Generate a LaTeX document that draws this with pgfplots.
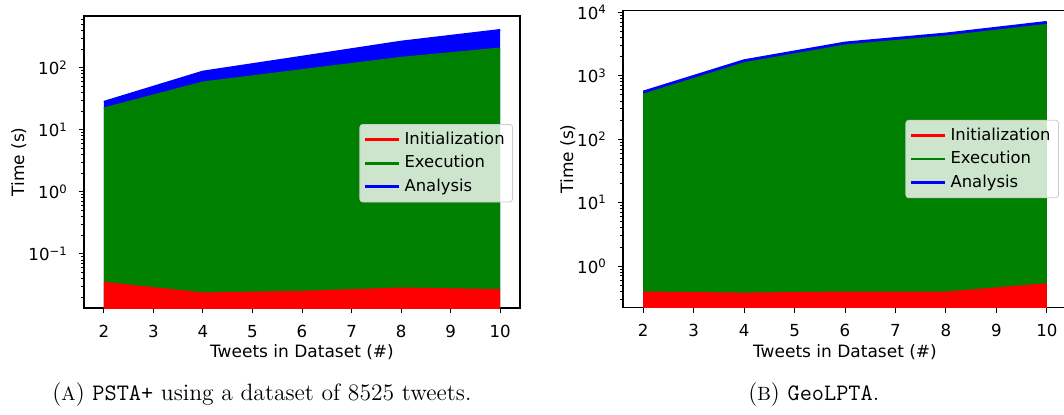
\documentclass[border=0pt]{standalone}
\usepackage{fontspec}
\usepackage{pgfplots}
\usepackage{pgfplotstable}
\pgfplotsset{compat=1.18}
\usepgfplotslibrary{fillbetween}
\newfontfamily\dv{DejaVu Sans}
\definecolor{mred}{RGB}{255,0,0}
\definecolor{mgreen}{RGB}{0,128,0}
\definecolor{mblue}{RGB}{0,0,255}

\pgfplotstableread{
x init exec anal
2 0.0346 22.17 5.9
4 0.0233 58.18 28.1
6 0.0248 91.98 58
8 0.0280 144.97 117
10 0.0264 204.97 199
}\tabA

\pgfplotstableread{
x init exec anal
2 0.385 540.6 12
4 0.37 1686.6 38
6 0.385 3209.6 70
8 0.385 4454.6 95
10 0.52 6789.5 140
}\tabB

\begin{document}
\begin{tikzpicture}

% ---------------- (A) ----------------
\begin{axis}[
  ymode=log, log basis y=10,
  /pgf/number format/assume math mode=true,
  scale only axis, anchor=south west,
  at={(42pt,53pt)}, width=218pt, height=146pt,
  xmin=1.6, xmax=10.4, xtick={2,3,4,5,6,7,8,9,10},
  ymin=0.01349, ymax=679,
  ytick={0.1,1,10,100},
  yticklabels={10\textsuperscript{−1},10\textsuperscript{0},10\textsuperscript{1},10\textsuperscript{2}},
  minor ytick={0.02,0.03,0.04,0.05,0.06,0.07,0.08,0.09,0.2,0.3,0.4,0.5,0.6,0.7,0.8,0.9,2,3,4,5,6,7,8,9,20,30,40,50,60,70,80,90,200,300,400,500,600},
  axis line style={line width=0.6pt},
  tick align=outside, xtick pos=bottom, ytick pos=left,
  major tick length=2.6pt, minor tick length=1.5pt,
  tick style={black, line width=0.5pt},
  minor tick style={line width=0.4pt},
  tick label style={font=\dv\fontsize{8.3}{10}\selectfont},
  xticklabel style={anchor=base, yshift=-12pt},
  yticklabel style={anchor=east, xshift=-2pt},
  label style={font=\dv\fontsize{8.5}{10}\selectfont},
  xlabel={Tweets in Dataset (\#)}, ylabel={Time (s)},
  xlabel style={at={(axis description cs:0.5,-0.1678)}, anchor=base},
  ylabel style={at={(axis description cs:-0.1376,0.5)}, anchor=base},
  legend cell align=left,
  legend style={at={(0.984,0.63)}, anchor=north east, font=\dv\fontsize{8.2}{10}\selectfont,
      fill=white, fill opacity=0.8, text opacity=1, draw=black!20,
      rounded corners=1.5pt, inner xsep=2pt, inner ysep=1.8pt,
      nodes={inner sep=2pt},
      /tikz/every even column/.append style={column sep=4.5pt}},
]
\addplot[name path=bot, draw=none, forget plot] coordinates {(2,1e-4) (10,1e-4)};
\addplot[name path=tot, draw=none, forget plot] table[x=x, y expr=\thisrow{init}+\thisrow{exec}+\thisrow{anal}] {\tabA};
\addplot[name path=ex, draw=none, forget plot] table[x=x, y expr=\thisrow{init}+\thisrow{exec}] {\tabA};
\addplot[name path=in, draw=none, forget plot] table[x=x, y=init] {\tabA};
\addplot[fill=mblue, draw=none, forget plot] fill between[of=tot and bot];
\addplot[fill=mgreen, draw=none, forget plot] fill between[of=ex and bot];
\addplot[fill=mred, draw=none, forget plot] fill between[of=in and bot];
\addplot[mblue, line width=1pt, forget plot] table[x=x, y expr=\thisrow{init}+\thisrow{exec}+\thisrow{anal}] {\tabA};
\addplot[mgreen, line width=0.8pt, forget plot] table[x=x, y expr=\thisrow{init}+\thisrow{exec}] {\tabA};
\addplot[mred, line width=0.8pt, forget plot] table[x=x, y=init] {\tabA};
\addlegendimage{mred, line width=1.3pt}
\addlegendentry{Initialization}
\addlegendimage{mgreen, line width=1.3pt}
\addlegendentry{Execution}
\addlegendimage{mblue, line width=1.3pt}
\addlegendentry{Analysis}
\end{axis}

% ---------------- (B) ----------------
\begin{axis}[
  ymode=log, log basis y=10,
  /pgf/number format/assume math mode=true,
  scale only axis, anchor=south west,
  at={(311.5pt,53.35pt)}, width=222pt, height=148.3pt,
  xmin=1.6, xmax=10.4, xtick={2,3,4,5,6,7,8,9,10},
  ymin=0.2234, ymax=10590,
  ytick={1,10,100,1000,10000},
  yticklabels={10\textsuperscript{0},10\textsuperscript{1},10\textsuperscript{2},10\textsuperscript{3},10\textsuperscript{4}},
  minor ytick={0.3,0.4,0.5,0.6,0.7,0.8,0.9,2,3,4,5,6,7,8,9,20,30,40,50,60,70,80,90,200,300,400,500,600,700,800,900,2000,3000,4000,5000,6000,7000,8000,9000},
  axis line style={line width=0.6pt},
  tick align=outside, xtick pos=bottom, ytick pos=left,
  major tick length=2.6pt, minor tick length=1.5pt,
  tick style={black, line width=0.5pt},
  minor tick style={line width=0.4pt},
  tick label style={font=\dv\fontsize{8.3}{10}\selectfont},
  xticklabel style={anchor=base, yshift=-12pt},
  yticklabel style={anchor=east, xshift=-2pt},
  label style={font=\dv\fontsize{8.5}{10}\selectfont},
  xlabel={Tweets in Dataset (\#)}, ylabel={Time (s)},
  xlabel style={at={(axis description cs:0.5,-0.1676)}, anchor=base},
  ylabel style={at={(axis description cs:-0.1126,0.5)}, anchor=base},
  legend cell align=left,
  legend style={at={(0.982,0.632)}, anchor=north east, font=\dv\fontsize{8.2}{10}\selectfont,
      fill=white, fill opacity=0.8, text opacity=1, draw=black!20,
      rounded corners=1.5pt, inner xsep=2pt, inner ysep=1.8pt,
      nodes={inner sep=2pt},
      /tikz/every even column/.append style={column sep=4.5pt}},
]
\addplot[name path=bot, draw=none, forget plot] coordinates {(2,1e-3) (10,1e-3)};
\addplot[name path=tot, draw=none, forget plot] table[x=x, y expr=\thisrow{init}+\thisrow{exec}+\thisrow{anal}] {\tabB};
\addplot[name path=ex, draw=none, forget plot] table[x=x, y expr=\thisrow{init}+\thisrow{exec}] {\tabB};
\addplot[name path=in, draw=none, forget plot] table[x=x, y=init] {\tabB};
\addplot[fill=mblue, draw=none, forget plot] fill between[of=tot and bot];
\addplot[fill=mgreen, draw=none, forget plot] fill between[of=ex and bot];
\addplot[fill=mred, draw=none, forget plot] fill between[of=in and bot];
\addplot[mblue, line width=1.4pt, forget plot] table[x=x, y expr=\thisrow{init}+\thisrow{exec}+\thisrow{anal}] {\tabB};
\addplot[mred, line width=0.8pt, forget plot] table[x=x, y=init] {\tabB};
\addlegendimage{mred, line width=1.3pt}
\addlegendentry{Initialization}
\addlegendimage{mgreen, line width=1.3pt}
\addlegendentry{Execution}
\addlegendimage{mblue, line width=1.3pt}
\addlegendentry{Analysis}
\end{axis}

% captions
\node[anchor=base west, inner sep=0pt, font=\fontsize{11.8}{14}\selectfont] at (26pt,7pt)
  {({\fontsize{9.6}{12}\selectfont A}) \texttt{PSTA+} using a dataset of 8525 tweets.};
\node[anchor=base west, inner sep=0pt, font=\fontsize{11.8}{14}\selectfont] at (374pt,7pt)
  {({\fontsize{9.6}{12}\selectfont B}) \texttt{GeoLPTA}.};

\pgfresetboundingbox
\path (0,0) rectangle (532pt,207pt);
\end{tikzpicture}
\end{document}
